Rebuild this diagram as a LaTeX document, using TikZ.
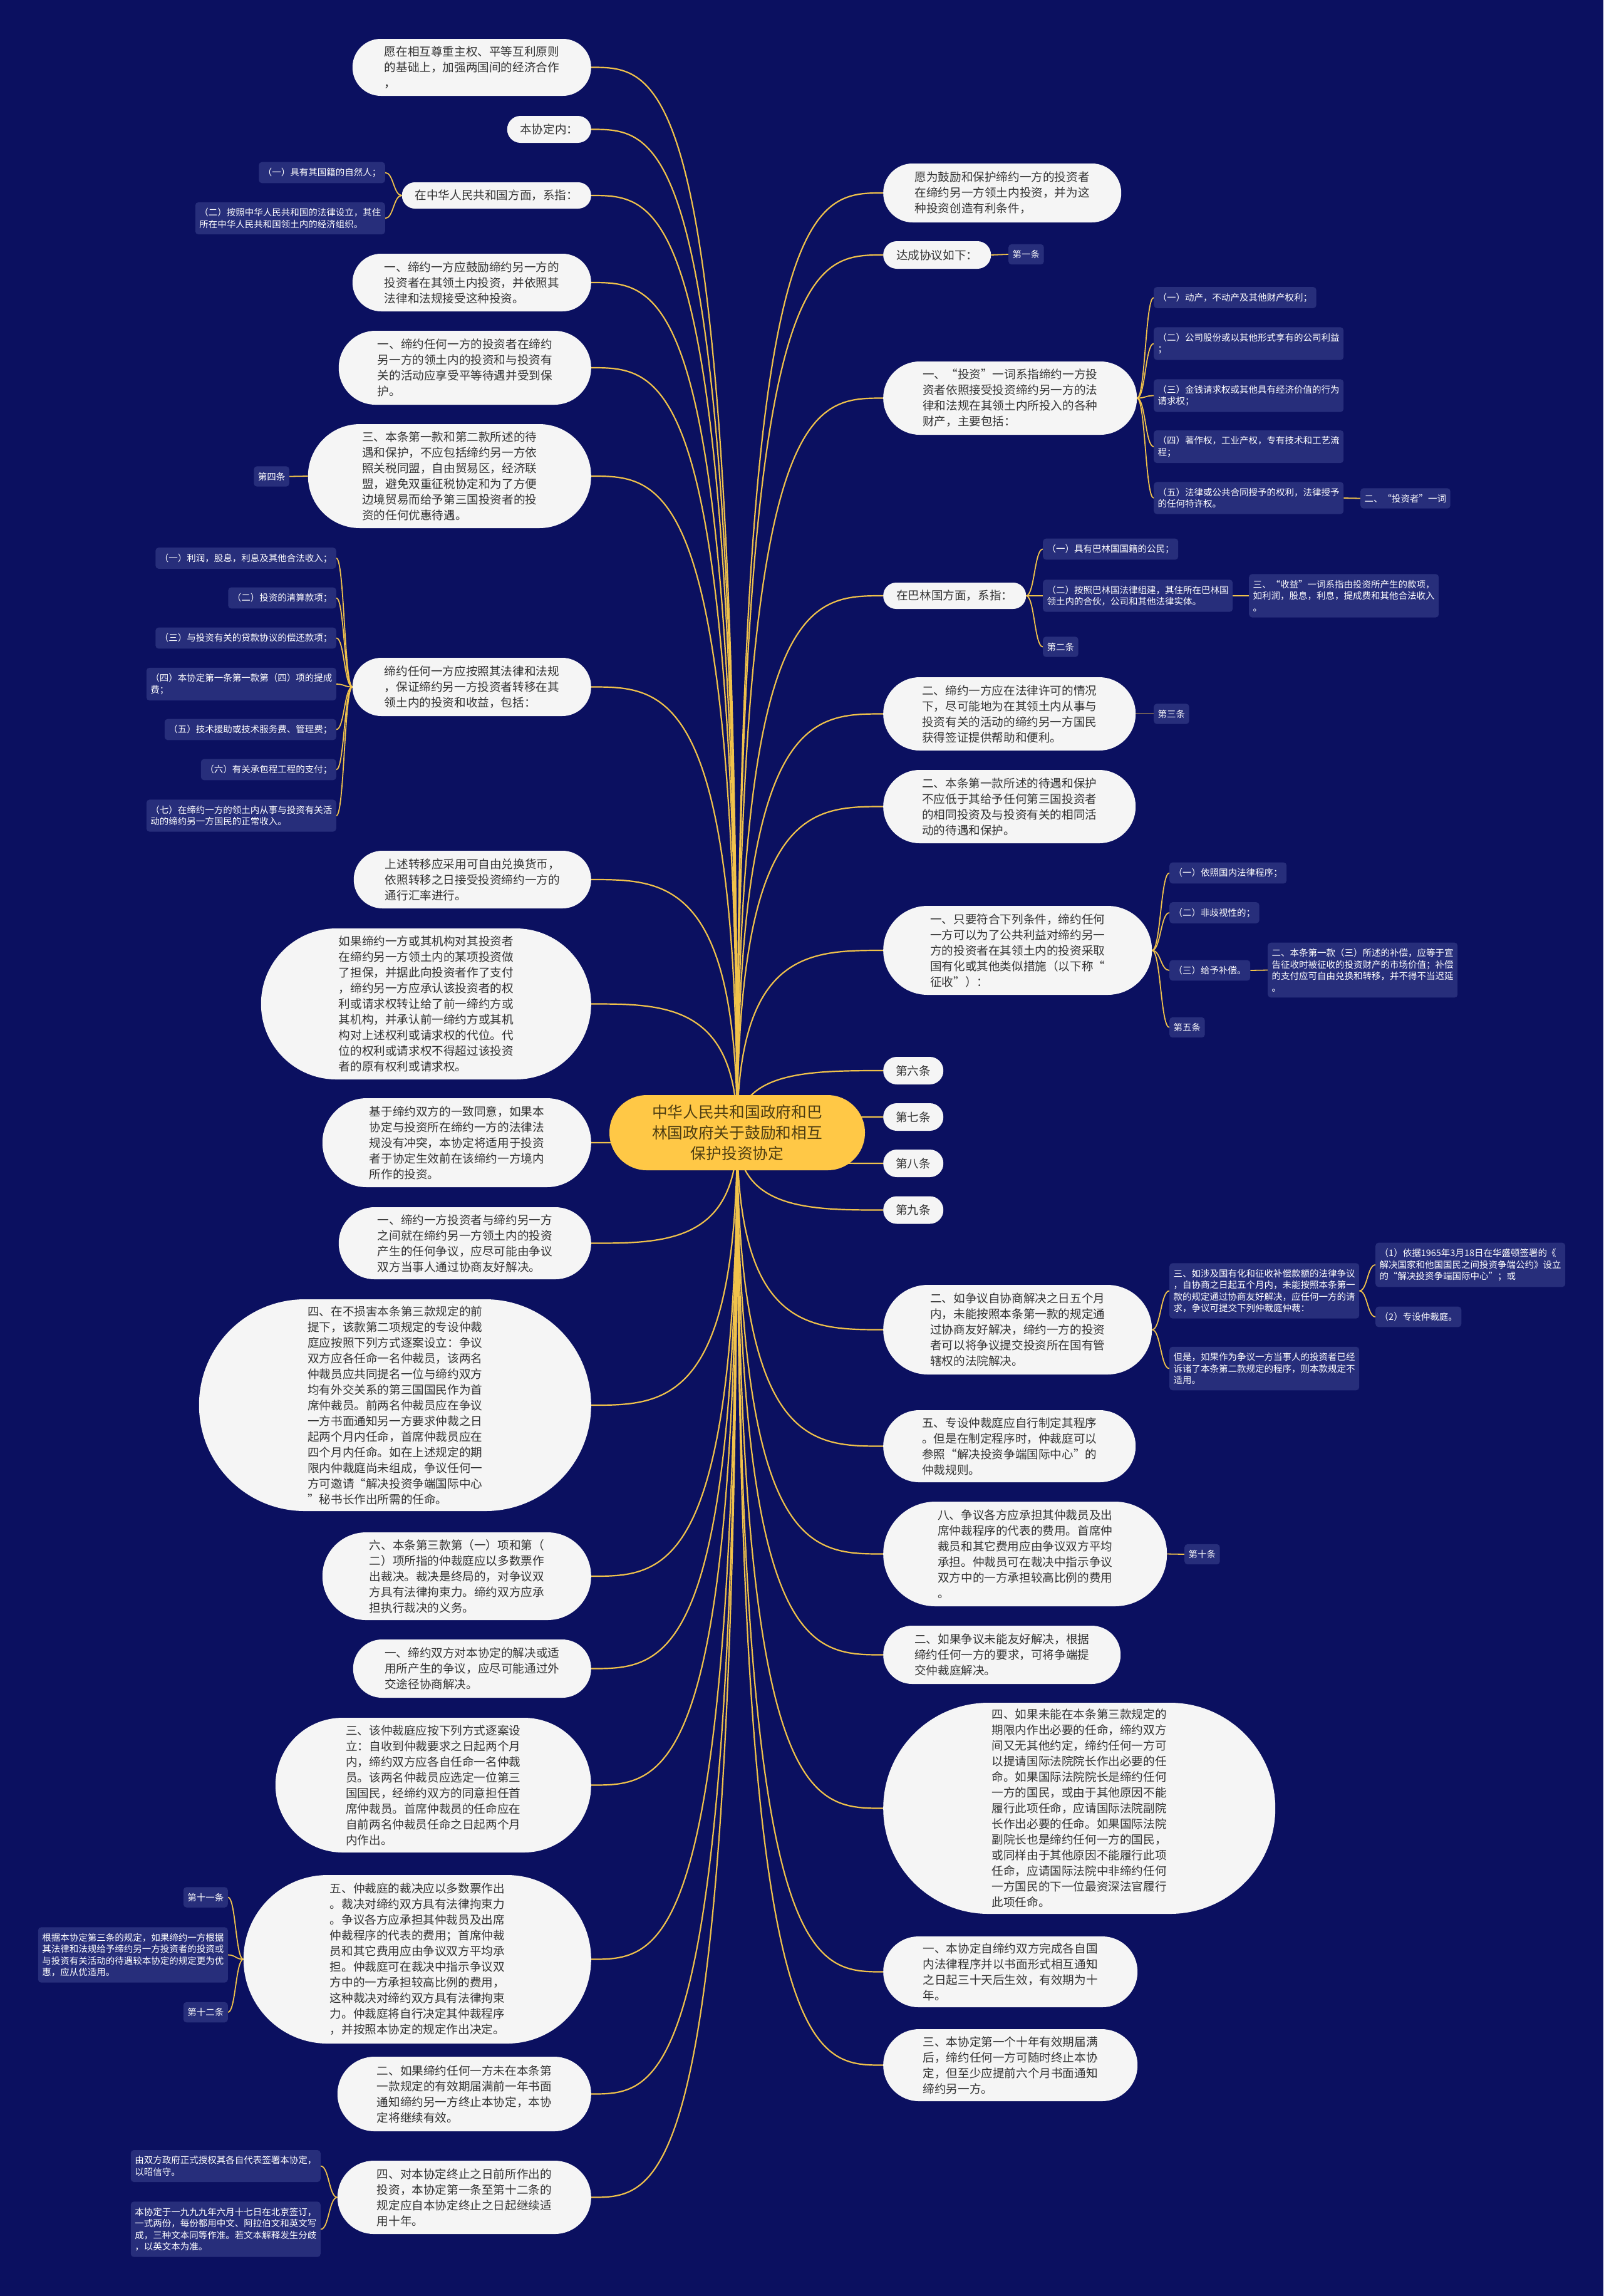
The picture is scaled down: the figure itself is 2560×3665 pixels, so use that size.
\documentclass[tikz,border=0pt]{standalone}
\usepackage{fontspec}
\setmainfont{Noto Sans CJK SC}
\usetikzlibrary{calc}

\definecolor{navybg}{HTML}{0B1060}
\definecolor{tagfill}{HTML}{272E7B}
\definecolor{wire}{HTML}{F0C24B}
\definecolor{rootfill}{HTML}{FFC846}
\definecolor{rootink}{HTML}{4D3D12}
\definecolor{bubblefill}{HTML}{F5F5F5}
\definecolor{inkgray}{HTML}{333333}

\pgfdeclarelayer{back}
\pgfdeclarelayer{wires}
\pgfsetlayers{back,wires,main}

\newcommand\bubblefont{\fontsize{18.6pt}{25pt}\selectfont}
\newcommand\tagfont{\fontsize{14.5pt}{18.5pt}\selectfont}
\newcommand\rootfont{\fontsize{24.7pt}{33pt}\selectfont}

\tikzset{
  bubble/.style 2 args={rectangle, fill=bubblefill, text=inkgray, font=\bubblefont,
    align=left, inner sep=0pt, minimum width=#1pt, minimum height=#2pt,
    rounded corners=#2*0.5pt-0.3pt},
  tag/.style={rectangle, fill=tagfill, text=white, font=\tagfont, align=left,
    inner xsep=6.5pt, inner ysep=9.5pt, rounded corners=5pt},
  rootnode/.style={rectangle, fill=rootfill, text=rootink, font=\rootfont,
    align=center, inner sep=0pt, minimum width=408pt, minimum height=120pt,
    rounded corners=59.7pt},
  trunk/.style={draw=wire, line width=2.2pt,
    to path={.. controls (\tikztostart|-\tikztotarget) and ($(\tikztotarget)!0.5!(\tikztostart|-\tikztotarget)$) .. (\tikztotarget)}},
  twig/.style={draw=wire, line width=1.8pt,
    to path={.. controls ($(\tikztostart)!0.5!(\tikztotarget|-\tikztostart)$) and ($(\tikztotarget)!0.5!(\tikztostart|-\tikztotarget)$) .. (\tikztotarget)}},
}

\begin{document}
\begin{tikzpicture}[x=1pt, y=-1pt]
    \begin{pgfonlayer}{back}
    \fill[navybg] (0,0) rectangle (2560,3665);
    \end{pgfonlayer}
    \useasboundingbox (0,0) rectangle (2560,3665);

    \node[rootnode] (root) at (1177,1808) {中华人民共和国政府和巴\\林国政府关于鼓励和相互\\保护投资协定};

    % left side
    \node[bubble={381}{91}, anchor=east] (l1) at (944,107.5) {愿在相互尊重主权、平等互利原则\\的基础上，加强两国间的经济合作\\，};
    \node[bubble={134}{43}, anchor=east] (l2) at (944,206.5) {本协定内：};
    \node[bubble={302}{42}, anchor=east] (l3) at (944,312) {在中华人民共和国方面，系指：};
    \node[tag, anchor=east] (l3a) at (615,275.5) {（一）具有其国籍的自然人；};
    \node[tag, anchor=east] (l3b) at (615,348.5) {（二）按照中华人民共和国的法律设立，其住\\所在中华人民共和国领土内的经济组织。};
    \node[bubble={381}{92}, anchor=east] (l4) at (944,451) {一、缔约一方应鼓励缔约另一方的\\投资者在其领土内投资，并依照其\\法律和法规接受这种投资。};
    \node[bubble={403}{118}, anchor=east] (l5) at (944,587) {一、缔约任何一方的投资者在缔约\\另一方的领土内的投资和与投资有\\关的活动应享受平等待遇并受到保\\护。};
    \node[bubble={452}{166}, anchor=east] (l6) at (944,760) {三、本条第一款和第二款所述的待\\遇和保护，不应包括缔约另一方依\\照关税同盟，自由贸易区，经济联\\盟，避免双重征税协定和为了方便\\边境贸易而给予第三国投资者的投\\资的任何优惠待遇。};
    \node[tag, anchor=east] (l6a) at (462,760.5) {第四条};
    \node[bubble={381}{93}, anchor=east] (l7) at (944,1096.5) {缔约任何一方应按照其法律和法规\\，保证缔约另一方投资者转移在其\\领土内的投资和收益，包括：};
    \node[tag, anchor=east] (l7a) at (537,891) {（一）利润，股息，利息及其他合法收入；};
    \node[tag, anchor=east] (l7b) at (537,954.5) {（二）投资的清算款项；};
    \node[tag, anchor=east] (l7c) at (537,1018.5) {（三）与投资有关的贷款协议的偿还款项；};
    \node[tag, anchor=east] (l7d) at (537,1092) {（四）本协定第一条第一款第（四）项的提成\\费；};
    \node[tag, anchor=east] (l7e) at (537,1164.5) {（五）技术援助或技术服务费、管理费；};
    \node[tag, anchor=east] (l7f) at (537,1228.5) {（六）有关承包程工程的支付；};
    \node[tag, anchor=east] (l7g) at (537,1302) {（七）在缔约一方的领土内从事与投资有关活\\动的缔约另一方国民的正常收入。};
    \node[bubble={379}{92}, anchor=east] (l8) at (944,1404) {上述转移应采用可自由兑换货币，\\依照转移之日接受投资缔约一方的\\通行汇率进行。};
    \node[bubble={527}{241}, anchor=east] (l9) at (944,1602.5) {如果缔约一方或其机构对其投资者\\在缔约另一方领土内的某项投资做\\了担保，并据此向投资者作了支付\\，缔约另一方应承认该投资者的权\\利或请求权转让给了前一缔约方或\\其机构，并承认前一缔约方或其机\\构对上述权利或请求权的代位。代\\位的权利或请求权不得超过该投资\\者的原有权利或请求权。};
    \node[bubble={429}{142}, anchor=east] (l10) at (944,1824) {基于缔约双方的一致同意，如果本\\协定与投资所在缔约一方的法律法\\规没有冲突，本协定将适用于投资\\者于协定生效前在该缔约一方境内\\所作的投资。};
    \node[bubble={403}{115}, anchor=east] (l11) at (944,1984.5) {一、缔约一方投资者与缔约另一方\\之间就在缔约另一方领土内的投资\\产生的任何争议，应尽可能由争议\\双方当事人通过协商友好解决。};
    \node[bubble={626}{338}, anchor=east] (l12) at (944,2243) {四、在不损害本条第三款规定的前\\提下，该款第二项规定的专设仲裁\\庭应按照下列方式逐案设立：争议\\双方应各任命一名仲裁员，该两名\\仲裁员应共同提名一位与缔约双方\\均有外交关系的第三国国民作为首\\席仲裁员。前两名仲裁员应在争议\\一方书面通知另一方要求仲裁之日\\起两个月内任命，首席仲裁员应在\\四个月内任命。如在上述规定的期\\限内仲裁庭尚未组成，争议任何一\\方可邀请“解决投资争端国际中心\\”秘书长作出所需的任命。};
    \node[bubble={429}{140}, anchor=east] (l13) at (944,2516) {六、本条第三款第（一）项和第（\\二）项所指的仲裁庭应以多数票作\\出裁决。裁决是终局的，对争议双\\方具有法律拘束力。缔约双方应承\\担执行裁决的义务。};
    \node[bubble={380}{93}, anchor=east] (l14) at (944,2663.5) {一、缔约双方对本协定的解决或适\\用所产生的争议，应尽可能通过外\\交途径协商解决。};
    \node[bubble={504}{215}, anchor=east] (l15) at (944,2849.5) {三、该仲裁庭应按下列方式逐案设\\立：自收到仲裁要求之日起两个月\\内，缔约双方应各自任命一名仲裁\\员。该两名仲裁员应选定一位第三\\国国民，经缔约双方的同意担任首\\席仲裁员。首席仲裁员的任命应在\\自前两名仲裁员任命之日起两个月\\内作出。};
    \node[bubble={555}{269}, anchor=east] (l16) at (944,3127.5) {五、仲裁庭的裁决应以多数票作出\\。裁决对缔约双方具有法律拘束力\\。争议各方应承担其仲裁员及出席\\仲裁程序的代表的费用；首席仲裁\\员和其它费用应由争议双方平均承\\担。仲裁庭可在裁决中指示争议双\\方中的一方承担较高比例的费用，\\这种裁决对缔约双方具有法律拘束\\力。仲裁庭将自行决定其仲裁程序\\，并按照本协定的规定作出决定。};
    \node[tag, anchor=east] (l16a) at (364,3028.5) {第十一条};
    \node[tag, anchor=east] (l16b) at (364,3120.5) {根据本协定第三条的规定，如果缔约一方根据\\其法律和法规给予缔约另一方投资者的投资或\\与投资有关活动的待遇较本协定的规定更为优\\惠，应从优适用。};
    \node[tag, anchor=east] (l16c) at (364,3212) {第十二条};
    \node[bubble={405}{119}, anchor=east] (l17) at (944,3342.5) {二、如果缔约任何一方未在本条第\\一款规定的有效期届满前一年书面\\通知缔约另一方终止本协定，本协\\定将继续有效。};
    \node[bubble={405}{117}, anchor=east] (l18) at (944,3507.5) {四、对本协定终止之日前所作出的\\投资，本协定第一条至第十二条的\\规定应自本协定终止之日起继续适\\用十年。};
    \node[tag, anchor=east] (l18a) at (512,3457.5) {由双方政府正式授权其各自代表签署本协定，\\以昭信守。};
    \node[tag, anchor=east] (l18b) at (512,3558.5) {本协定于一九九九年六月十七日在北京签订，\\一式两份，每份都用中文、阿拉伯文和英文写\\成，三种文本同等作准。若文本解释发生分歧\\，以英文本为准。};

    % right side
    \node[bubble={380}{94}, anchor=west] (r1) at (1410,308) {愿为鼓励和保护缔约一方的投资者\\在缔约另一方领土内投资，并为这\\种投资创造有利条件，};
    \node[bubble={172}{44}, anchor=west] (r2) at (1410,407) {达成协议如下：};
    \node[tag, anchor=west] (r2a) at (1610,406) {第一条};
    \node[bubble={405}{117}, anchor=west] (r3) at (1410,635.5) {一、“投资”一词系指缔约一方投\\资者依照接受投资缔约另一方的法\\律和法规在其领土内所投入的各种\\财产，主要包括：};
    \node[tag, anchor=west] (r3a) at (1842,475) {（一）动产，不动产及其他财产权利；};
    \node[tag, anchor=west] (r3b) at (1842,548.5) {（二）公司股份或以其他形式享有的公司利益\\；};
    \node[tag, anchor=west] (r3c) at (1842,631.5) {（三）金钱请求权或其他具有经济价值的行为\\请求权；};
    \node[tag, anchor=west] (r3d) at (1842,713) {（四）著作权，工业产权，专有技术和工艺流\\程；};
    \node[tag, anchor=west] (r3e) at (1842,795) {（五）法律或公共合同授予的权利，法律授予\\的任何特许权。};
    \node[tag, anchor=west] (r3e1) at (2172,795.5) {二、“投资者”一词};
    \node[bubble={228}{42}, anchor=west] (r4) at (1410,951) {在巴林国方面，系指：};
    \node[tag, anchor=west] (r4a) at (1665,876.5) {（一）具有巴林国国籍的公民；};
    \node[tag, anchor=west] (r4b) at (1665,951) {（二）按照巴林国法律组建，其住所在巴林国\\领土内的合伙，公司和其他法律实体。};
    \node[tag, anchor=west] (r4b1) at (1994,951) {三、“收益”一词系指由投资所产生的款项，\\如利润，股息，利息，提成费和其他合法收入\\。};
    \node[tag, anchor=west] (r4c) at (1665,1032.5) {第二条};
    \node[bubble={403}{117}, anchor=west] (r5) at (1410,1139.5) {二、缔约一方应在法律许可的情况\\下，尽可能地为在其领土内从事与\\投资有关的活动的缔约另一方国民\\获得签证提供帮助和便利。};
    \node[tag, anchor=west] (r5a) at (1842,1139.5) {第三条};
    \node[bubble={403}{117}, anchor=west] (r6) at (1410,1287.5) {二、本条第一款所述的待遇和保护\\不应低于其给予任何第三国投资者\\的相同投资及与投资有关的相同活\\动的待遇和保护。};
    \node[bubble={429}{142}, anchor=west] (r7) at (1410,1517) {一、只要符合下列条件，缔约任何\\一方可以为了公共利益对缔约另一\\方的投资者在其领土内的投资采取\\国有化或其他类似措施（以下称“\\征收”）：};
    \node[tag, anchor=west] (r7a) at (1867,1393.5) {（一）依照国内法律程序；};
    \node[tag, anchor=west] (r7b) at (1867,1457) {（二）非歧视性的；};
    \node[tag, anchor=west] (r7c) at (1867,1549) {（三）给予补偿。};
    \node[tag, anchor=west] (r7c1) at (2024,1548.5) {二、本条第一款（三）所述的补偿，应等于宣\\告征收时被征收的投资财产的市场价值；补偿\\的支付应可自由兑换和转移，并不得不当迟延\\。};
    \node[tag, anchor=west] (r7d) at (1867,1640) {第五条};
    \node[bubble={96}{44}, anchor=west] (art6) at (1410,1709) {第六条};
    \node[bubble={96}{44}, anchor=west] (art7) at (1410,1783) {第七条};
    \node[bubble={96}{44}, anchor=west] (art8) at (1410,1857) {第八条};
    \node[bubble={96}{44}, anchor=west] (art9) at (1410,1931.5) {第九条};
    \node[bubble={429}{143}, anchor=west] (r9) at (1410,2122.5) {二、如争议自协商解决之日五个月\\内，未能按照本条第一款的规定通\\过协商友好解决，缔约一方的投资\\者可以将争议提交投资所在国有管\\辖权的法院解决。};
    \node[tag, anchor=west] (r9a) at (1867,2060.5) {三、如涉及国有化和征收补偿款额的法律争议\\，自协商之日起五个月内，未能按照本条第一\\款的规定通过协商友好解决，应任何一方的请\\求，争议可提交下列仲裁庭仲裁：};
    \node[tag, anchor=west] (r9a1) at (2196,2019) {（1）依据1965年3月18日在华盛顿签署的《\\解决国家和他国国民之间投资争端公约》设立\\的“解决投资争端国际中心”；或};
    \node[tag, anchor=west] (r9a2) at (2196,2102) {（2）专设仲裁庭。};
    \node[tag, anchor=west] (r9b) at (1867,2184.5) {但是，如果作为争议一方当事人的投资者已经\\诉诸了本条第二款规定的程序，则本款规定不\\适用。};
    \node[bubble={403}{115}, anchor=west] (r10) at (1410,2308.5) {五、专设仲裁庭应自行制定其程序\\。但是在制定程序时，仲裁庭可以\\参照“解决投资争端国际中心”的\\仲裁规则。};
    \node[bubble={453}{167}, anchor=west] (r11) at (1410,2480.5) {八、争议各方应承担其仲裁员及出\\席仲裁程序的代表的费用。首席仲\\裁员和其它费用应由争议双方平均\\承担。仲裁员可在裁决中指示争议\\双方中的一方承担较高比例的费用\\。};
    \node[tag, anchor=west] (r11a) at (1891,2481) {第十条};
    \node[bubble={379}{93}, anchor=west] (r12) at (1410,2641.5) {二、如果争议未能友好解决，根据\\缔约任何一方的要求，可将争端提\\交仲裁庭解决。};
    \node[bubble={626}{337}, anchor=west] (r13) at (1410,2886.5) {四、如果未能在本条第三款规定的\\期限内作出必要的任命，缔约双方\\间又无其他约定，缔约任何一方可\\以提请国际法院院长作出必要的任\\命。如果国际法院院长是缔约任何\\一方的国民，或由于其他原因不能\\履行此项任命，应请国际法院副院\\长作出必要的任命。如果国际法院\\副院长也是缔约任何一方的国民，\\或同样由于其他原因不能履行此项\\任命，应请国际法院中非缔约任何\\一方国民的下一位最资深法官履行\\此项任命。};
    \node[bubble={406}{113}, anchor=west] (r14) at (1410,3147.5) {一、本协定自缔约双方完成各自国\\内法律程序并以书面形式相互通知\\之日起三十天后生效，有效期为十\\年。};
    \node[bubble={406}{115}, anchor=west] (r15) at (1410,3296.5) {三、本协定第一个十年有效期届满\\后，缔约任何一方可随时终止本协\\定，但至少应提前六个月书面通知\\缔约另一方。};

    % connectors
    \begin{pgfonlayer}{wires}
    \foreach \n in {l1,l2,l3,l4,l5,l6,l7,l8,l9,l10,l11,l12,l13,l14,l15,l16,l17,l18}
        \draw[trunk] (root.center) to (\n.east);
    \foreach \n in {r1,r2,r3,r4,r5,r6,r7,art6,art7,art8,art9,r9,r10,r11,r12,r13,r14,r15}
        \draw[trunk] (root.center) to (\n.west);
    \foreach \n in {l3a,l3b} \draw[twig] (l3.west) to (\n.east);
    \draw[twig] (l6.west) to (l6a.east);
    \foreach \n in {l7a,l7b,l7c,l7d,l7e,l7f,l7g} \draw[twig] (l7.west) to (\n.east);
    \foreach \n in {l16a,l16b,l16c} \draw[twig] (l16.west) to (\n.east);
    \foreach \n in {l18a,l18b} \draw[twig] (l18.west) to (\n.east);
    \draw[twig] (r2.east) to (r2a.west);
    \foreach \n in {r3a,r3b,r3c,r3d,r3e} \draw[twig] (r3.east) to (\n.west);
    \draw[twig] (r3e.east) to (r3e1.west);
    \foreach \n in {r4a,r4b,r4c} \draw[twig] (r4.east) to (\n.west);
    \draw[twig] (r4b.east) to (r4b1.west);
    \draw[twig] (r5.east) to (r5a.west);
    \foreach \n in {r7a,r7b,r7c,r7d} \draw[twig] (r7.east) to (\n.west);
    \draw[twig] (r7c.east) to (r7c1.west);
    \foreach \n in {r9a,r9b} \draw[twig] (r9.east) to (\n.west);
    \foreach \n in {r9a1,r9a2} \draw[twig] (r9a.east) to (\n.west);
    \draw[twig] (r11.east) to (r11a.west);
    \end{pgfonlayer}
\end{tikzpicture}
\end{document}
